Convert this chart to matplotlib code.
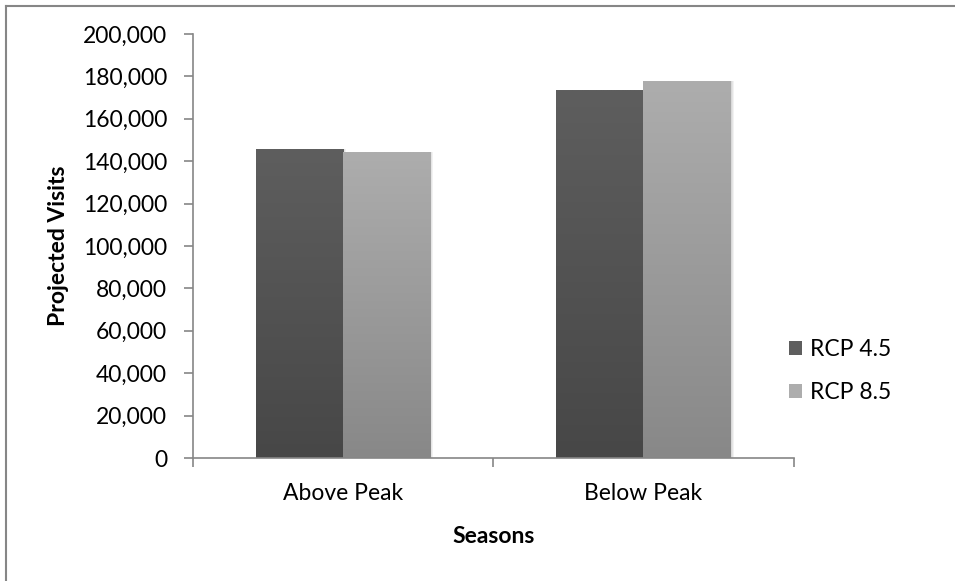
import numpy as np
import matplotlib.pyplot as plt
import matplotlib.transforms as mtransforms
from matplotlib.colors import LinearSegmentedColormap
from matplotlib.patches import Patch, Rectangle
from matplotlib.ticker import FuncFormatter

plt.rcParams['font.family'] = ['Lato', 'DejaVu Sans']

seasons = ['Above Peak', 'Below Peak']
series = ['RCP 4.5', 'RCP 8.5']
rcp45 = [145700, 173200]
rcp85 = [144300, 177800]

# top / bottom colour of the gradient in each bar
shades = {'RCP 4.5': ('#5e5e5e', '#474747'),
          'RCP 8.5': ('#adadad', '#888888')}

fig = plt.figure(figsize=(9.55, 5.81), dpi=100)
ax = fig.add_axes([0.202, 0.2117, 0.629, 0.7298])

x = np.arange(len(seasons))
w = 0.29
for i, (name, vals) in enumerate(zip(series, [rcp45, rcp85])):
    top, bot = shades[name]
    cmap = LinearSegmentedColormap.from_list(name, [bot, top])
    xs = x + (i - 0.5) * w
    bars = ax.bar(xs, vals, width=w, color='none', edgecolor='none', zorder=2)
    for b in bars:
        x0, y0 = b.get_x(), b.get_y()
        # soft shadow to the right of each bar
        for k in (1, 2, 3):
            tr = mtransforms.offset_copy(ax.transData, fig=fig, x=k, y=0, units='dots')
            ax.add_patch(Rectangle((x0, y0), b.get_width(), b.get_height(), transform=tr,
                                   facecolor='black', alpha=0.05, edgecolor='none', zorder=1.5))
        grad = np.linspace(0, 1, 256).reshape(-1, 1)
        ax.imshow(grad, cmap=cmap, origin='lower', aspect='auto', zorder=2,
                  extent=[x0, x0 + b.get_width(), y0, y0 + b.get_height()])

fs = 16.5
ax.set_xlim(-0.5, 1.5)
ax.set_ylim(0, 200000)
ax.set_yticks(np.arange(0, 200001, 20000))
ax.yaxis.set_major_formatter(FuncFormatter(lambda v, p: f'{int(v):,}'))
ax.set_xticks(x)
ax.set_xticklabels(seasons)
ax.set_xticks([-0.5, 0.5, 1.5], minor=True)
ax.tick_params(axis='x', which='major', length=0, pad=18, labelsize=fs)
ax.tick_params(axis='x', which='minor', length=6.5, color='#868686', width=1.2)
ax.tick_params(axis='y', length=6.5, color='#868686', width=1.2, labelsize=fs, pad=12)

for s in ['top', 'right']:
    ax.spines[s].set_visible(False)
for s in ['left', 'bottom']:
    ax.spines[s].set_color('#868686')
    ax.spines[s].set_linewidth(1.2)
    ax.spines[s].set_zorder(3)

ax.set_xlabel('Seasons', fontsize=fs, fontweight='bold', labelpad=16)
ax.set_ylabel('Projected Visits', fontsize=fs, fontweight='bold', labelpad=10)

handles = [Patch(facecolor=shades[s][0], edgecolor='none') for s in series]
fig.legend(handles, series, loc='center left', bbox_to_anchor=(0.805, 0.361),
           frameon=False, fontsize=fs, handlelength=0.55, handleheight=0.55,
           handletextpad=0.35, labelspacing=0.95)

# chart border (only top and left edges are visible in the frame)
fig.add_artist(plt.Line2D([0.006, 1.0], [0.99, 0.99], color='#868686', lw=1.5))
fig.add_artist(plt.Line2D([0.0065, 0.0065], [0.0, 0.99], color='#868686', lw=1.5))

fig.savefig('out.png', dpi=100)
